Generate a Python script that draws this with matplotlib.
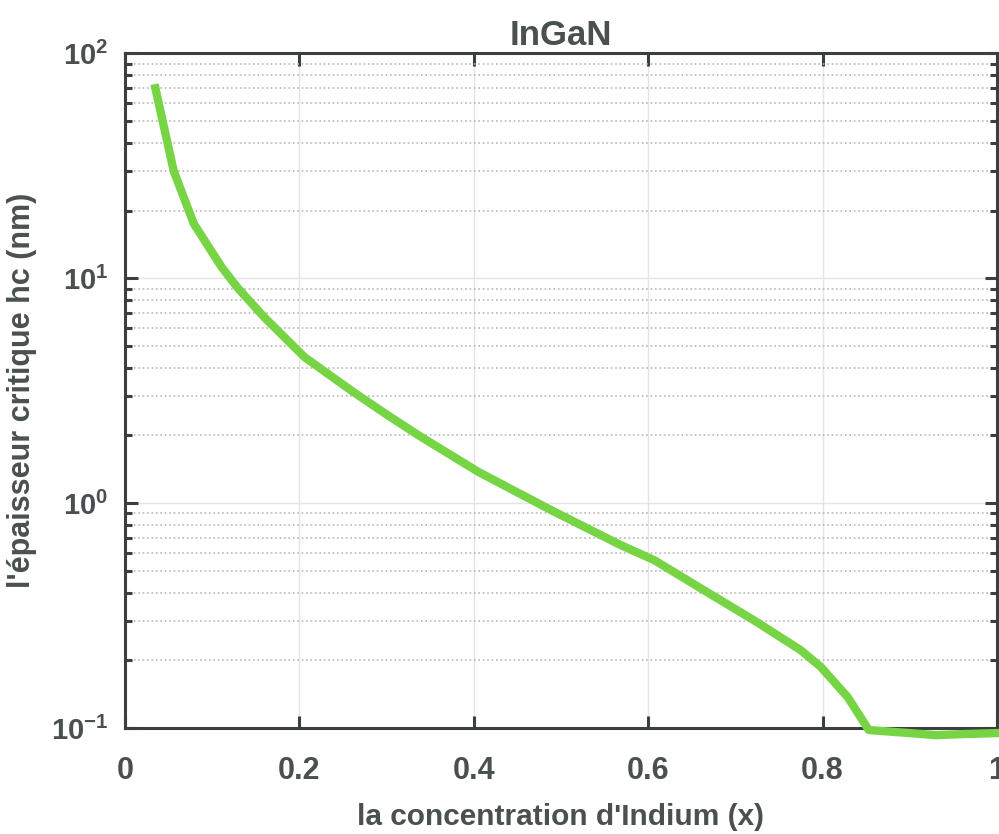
import numpy as np
import matplotlib.pyplot as plt
from matplotlib.ticker import LogLocator

plt.rcParams['font.family'] = ['Liberation Sans', 'DejaVu Sans']
plt.rcParams['font.weight'] = 'bold'
plt.rcParams['axes.unicode_minus'] = False

# --- data ---
x_in = [0.035, 0.056, 0.079, 0.111, 0.13, 0.16, 0.206, 0.26, 0.3, 0.337, 0.405,
        0.489, 0.569, 0.607, 0.664, 0.721, 0.775, 0.798, 0.829, 0.853, 0.9, 0.93, 0.96, 1.0]
hc = [70, 30, 17.5, 11.2, 9.0, 6.7, 4.46, 3.16, 2.48, 2.0, 1.38,
      0.93, 0.65, 0.558, 0.41, 0.302, 0.222, 0.187, 0.137, 0.098, 0.095, 0.093, 0.094, 0.095]
xticks = [0, 0.2, 0.4, 0.6, 0.8, 1]
xticklabels = ['0', '0.2', '0.4', '0.6', '0.8', '1']

fig = plt.figure(figsize=(9.99, 8.34), dpi=100)
ax = fig.add_axes([0.125, 0.127, 0.873, 0.809])

ax.plot(x_in, hc, color='#77D444', linewidth=6, clip_on=False, zorder=5,
        solid_joinstyle='round')

ax.set_yscale('log')
ax.set_xlim(0, 1)
ax.set_ylim(0.1, 100)
ax.set_xticks(xticks)
ax.set_xticklabels(xticklabels)
ax.yaxis.set_major_locator(LogLocator(base=10, numticks=10))
ax.yaxis.set_minor_locator(LogLocator(base=10, subs=np.arange(2, 10), numticks=20))

ax.grid(True, which='major', color='#e4e4e4', linewidth=1, linestyle='-')
ax.grid(True, which='minor', axis='y', color='#b8b8b8', linewidth=1.2, linestyle=':')

for s in ax.spines.values():
    s.set_color('#3a3f3f')
    s.set_linewidth(2.2)

ax.tick_params(which='both', direction='in', top=True, right=True,
               colors='#3a3f3f', labelcolor='#4a4f4f', width=2.2)
ax.tick_params(axis='x', which='major', length=9, pad=20, labelsize=22)
ax.tick_params(axis='y', which='major', length=9, pad=12, labelsize=21)
ax.tick_params(which='minor', length=5)

ax.set_title('InGaN', fontsize=25, fontweight='bold', color='#4a4f4f', pad=6)
ax.set_xlabel("la concentration d'Indium (x)", fontsize=21.5, fontweight='bold',
              color='#4a4f4f', labelpad=12)
ax.set_ylabel("l'épaisseur critique hc (nm)", fontsize=22, fontweight='bold',
              color='#4a4f4f', labelpad=10)

fig.savefig('out.png', dpi=100)
